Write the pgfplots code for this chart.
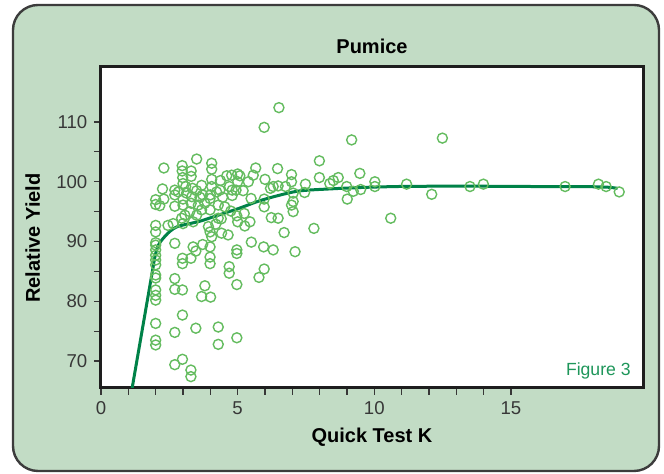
\documentclass[border=0pt]{standalone}
\usepackage{fontspec}
\setmainfont{Liberation Sans}
\usepackage{pgfplots}
\usepackage{pgfplotstable}
\pgfplotsset{compat=1.18}
\definecolor{bgg}{RGB}{194,220,197}
\definecolor{boxc}{RGB}{60,60,60}
\definecolor{framec}{RGB}{30,30,30}
\definecolor{tickc}{RGB}{55,55,55}
\definecolor{markc}{RGB}{100,188,95}
\definecolor{curvec}{RGB}{0,130,72}
\definecolor{figc}{RGB}{30,150,90}

\pgfplotstableread{
x y
2.0 97.0
2.0 96.2
2.0 92.7
2.0 91.6
2.0 89.8
2.0 89.4
2.0 88.6
2.0 87.7
2.0 86.9
2.0 86.1
2.0 84.4
2.0 83.9
2.0 81.9
2.0 81.0
2.0 80.2
2.0 76.3
2.0 73.5
2.0 72.7
2.15 96.0
2.3 97.1
2.25 98.8
2.3 102.3
2.45 92.7
2.64 93.0
2.7 98.6
2.7 97.8
2.7 95.9
2.7 89.7
2.7 83.8
2.7 82.0
2.7 74.8
2.7 69.4
2.83 98.3
2.97 102.7
2.97 101.8
2.99 100.7
3.0 99.7
3.0 97.1
3.0 96.1
2.95 93.9
3.0 93.0
2.98 87.2
2.98 86.3
2.98 81.9
2.98 77.7
2.98 70.3
3.07 94.4
3.13 98.1
3.1 99.2
3.25 95.0
3.3 101.8
3.3 100.9
3.32 97.5
3.3 96.4
3.35 98.9
3.37 93.3
3.29 87.2
3.29 68.5
3.29 67.4
3.37 89.1
3.47 88.4
3.47 75.5
3.5 103.8
3.5 94.4
3.5 98.5
3.56 96.1
3.62 97.4
3.68 99.4
3.68 95.3
3.68 80.8
3.72 97.8
3.72 89.5
3.8 96.4
3.8 82.6
3.99 95.3
3.93 92.5
3.99 91.6
4.05 90.8
3.99 89.1
3.99 87.4
3.99 86.3
4.01 80.7
3.99 97.2
4.05 100.4
4.05 99.2
4.05 103.1
4.05 102.1
4.0 97.8
4.23 98.3
4.29 93.9
4.29 96.1
4.29 75.7
4.29 72.8
4.35 98.6
4.37 100.2
4.41 91.4
4.45 97.4
4.2 92.9
4.4 93.8
4.53 95.8
4.6 101.0
4.65 91.1
4.7 99.2
4.69 85.8
4.69 84.7
4.78 101.1
4.8 98.6
4.8 97.7
4.75 95.1
4.94 98.6
4.97 94.3
4.97 88.6
4.97 88.0
4.97 82.8
4.97 73.9
5.0 100.0
5.0 101.3
5.0 93.3
5.08 101.0
5.24 94.7
5.26 92.6
5.2 98.5
5.39 100.0
5.45 93.3
5.5 89.9
5.49 97.2
5.57 101.1
5.66 102.3
5.78 84.0
5.95 89.1
5.97 85.4
5.97 109.1
6.0 100.4
5.97 97.1
5.97 95.8
6.3 88.6
6.23 94.0
6.3 99.2
6.48 99.3
6.46 102.2
6.48 93.9
6.51 112.4
6.2 98.9
6.7 91.5
6.75 99.2
6.97 101.2
6.97 100.0
7.03 98.1
7.03 96.7
6.97 96.1
7.03 95.0
7.1 88.3
7.45 98.2
7.48 99.6
7.79 92.2
7.99 103.5
7.99 100.7
8.37 99.7
8.5 100.2
8.68 100.7
8.99 99.2
9.01 97.1
9.17 107.0
9.23 98.4
9.47 101.4
9.5 98.7
10.02 100.0
10.02 99.2
10.6 93.9
11.18 99.6
12.1 97.9
12.49 107.3
13.5 99.2
13.99 99.6
16.98 99.2
18.2 99.6
18.48 99.2
18.96 98.3
}\pts

\pgfplotstableread{
x y
1.14 65.5
1.83 83.7
1.98 87.6
2.1 89.4
2.25 90.4
2.52 91.7
2.83 92.55
3.62 93.4
4.35 94.5
5.08 95.6
5.93 97.0
7.16 98.4
8.37 98.8
9.59 99.05
10.81 99.2
12.03 99.25
14.0 99.25
16.0 99.2
17.5 99.2
18.5 99.1
18.9 98.9
}\fit

\begin{document}
\begin{tikzpicture}
\useasboundingbox (-50.5pt,-43pt) rectangle (281.5pt,194pt);
\fill[white] (-50.5pt,-43pt) rectangle (281.5pt,194pt);
\draw[fill=bgg, draw=boxc, line width=1.2pt, rounded corners=12.5pt] (-44pt,-41.5pt) rectangle (279pt,191.5pt);
\begin{axis}[
  at={(0pt,0pt)}, anchor=south west,
  scale only axis, width=271pt, height=160.5pt,
  xmin=0, xmax=19.83, ymin=65.5, ymax=119.2,
  axis background/.style={fill=white},
  axis line style={line width=1.5pt, draw=framec},
  xtick={0,5,10,15}, minor x tick num=4,
  ytick={70,80,90,100,110}, minor y tick num=1,
  xtick pos=bottom, ytick pos=left,
  tick align=outside,
  major tick length=3.3pt, minor tick length=3.3pt,
  every tick/.style={draw=tickc, line width=0.6pt},
  tick label style={font=\fontsize{9.3}{10}\selectfont, text=tickc},
  /pgf/number format/assume math mode=true,
  clip=true,
]
\addplot[draw=curvec, line width=1.5pt, smooth, tension=0.45] table[x=x,y=y] {\fit};
\addplot[only marks, mark=o, mark size=2.5pt, mark options={draw=markc, line width=0.7pt}] table[x=x,y=y] {\pts};
\end{axis}
\node[anchor=base, font=\bfseries\fontsize{10}{12}\selectfont] at (135.5pt,167pt) {Pumice};
\node[anchor=base, font=\bfseries\fontsize{10}{12}\selectfont] at (135.5pt,-27.5pt) {Quick Test K};
\node[anchor=base, rotate=90, font=\bfseries\fontsize{10}{12}\selectfont] at (-30.5pt,75pt) {Relative Yield};
\node[anchor=base east, inner sep=0pt, text=figc, font=\fontsize{8.8}{10}\selectfont] at (265pt,6pt) {Figure 3};
\end{tikzpicture}
\end{document}
